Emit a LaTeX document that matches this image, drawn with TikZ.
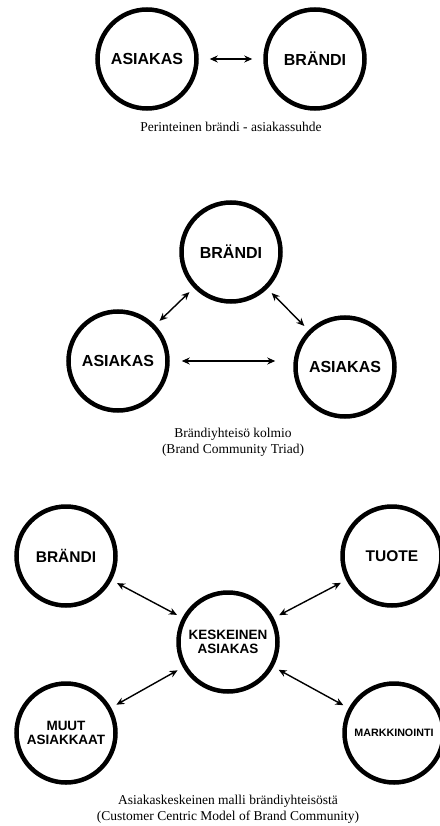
\documentclass[tikz,border=0pt]{standalone}
\usepackage{fontspec}
\setmainfont{Liberation Serif}
\setsansfont{Liberation Sans}
\usetikzlibrary{arrows.meta}
\begin{document}
\begin{tikzpicture}[x=1pt,y=-1pt]
\tikzset{edge/.style = {{Stealth[length=8pt,width=7pt]}-{Stealth[length=8pt,width=7pt]}, line width=1.4pt, shorten <=6pt, shorten >=6pt}}
\tikzset{vertex/.style = {shape=circle, draw, line width=4.5pt, minimum size=99pt, inner sep=0pt, align=center, font=\sffamily\bfseries\fontsize{16}{16}\selectfont}}
\tikzset{smallvertex/.style = {vertex, font=\sffamily\bfseries\fontsize{13.5}{13.5}\selectfont}}
\tikzset{caption/.style = {align=center, font=\fontsize{13.5}{16}\selectfont}}
\useasboundingbox (0,0) rectangle (439,826);
\node[vertex](a1) at (147,59) {ASIAKAS};
\node[vertex](b1) at (315,59) {BRÄNDI};
\draw[edge, shorten <=11pt, shorten >=11pt] (a1) to (b1);
\node[caption](c1) at (231,127) {Perinteinen brändi - asiakassuhde};
\node[vertex](b2) at (231,252) {BRÄNDI};
\node[vertex](a2) at (118,361) {ASIAKAS};
\node[vertex](a3) at (345,367) {ASIAKAS};
\draw[edge] (b2) to (a2);
\draw[edge] (b2) to (a3);
\draw[edge, shorten <=12pt, shorten >=18pt] (a2) to (a2 -| a3.west);
\node[caption](c2) at (233,442) {Brändiyhteisö kolmio\\(Brand Community Triad)};
\node[vertex, font=\sffamily\bfseries\fontsize{15.5}{15.5}\selectfont](b3) at (66,556) {BRÄNDI};
\node[vertex, font=\sffamily\bfseries\fontsize{15.5}{15.5}\selectfont](t1) at (392,556) {TUOTE};
\node[smallvertex](k1) at (228,642) {KESKEINEN\\ASIAKAS};
\node[smallvertex](m1) at (66,733) {MUUT\\ASIAKKAAT};
\node[vertex, font=\sffamily\bfseries\fontsize{10.7}{10.7}\selectfont](m2) at (394,733) {MARKKINOINTI};
\draw[edge] (b3) to (k1);
\draw[edge] (t1) to (k1);
\draw[edge] (m1) to (k1);
\draw[edge] (m2) to (k1);
\node[caption](c3) at (228,809) {Asiakaskeskeinen malli brändiyhteisöstä\\(Customer Centric Model of Brand Community)};
\end{tikzpicture}
\end{document}
